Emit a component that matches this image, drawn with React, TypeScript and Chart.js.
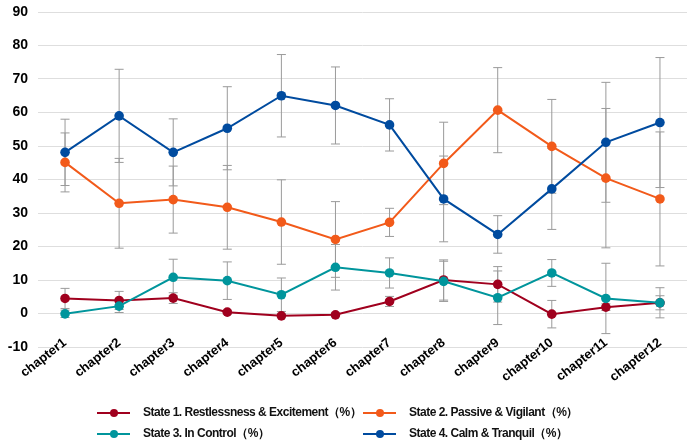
import React, { useEffect, useRef } from "react";
import { Chart, registerables } from "chart.js";

Chart.register(...registerables);

const categories = ["chapter1", "chapter2", "chapter3", "chapter4", "chapter5", "chapter6", "chapter7", "chapter8", "chapter9", "chapter10", "chapter11", "chapter12"];

const state1 = [4.5, 3.9, 4.6, 0.4, -0.7, -0.4, 3.6, 10.0, 8.7, -0.2, 1.9, 3.2];
const state1Err = [3.0, 2.7, 1.6, 0.6, 0.6, 0.6, 1.5, 6.0, 5.3, 4.1, 1.0, 2.1];

const state2 = [45.1, 32.9, 34.0, 31.7, 27.3, 22.1, 27.2, 44.8, 60.7, 49.9, 40.4, 34.2];
const state2Err = [8.8, 13.4, 10.0, 12.5, 12.6, 11.3, 4.2, 12.3, 12.7, 14.0, 20.8, 20.0];

const state3 = [-0.1, 2.2, 10.8, 9.8, 5.6, 13.8, 12.1, 9.6, 4.7, 12.1, 4.5, 3.2];
const state3Err = [1.1, 1.9, 5.4, 5.6, 5.0, 6.8, 4.5, 6.0, 8.0, 4.0, 10.5, 4.5];

const state4 = [48.1, 59.0, 48.1, 55.3, 65.0, 62.1, 56.3, 34.2, 23.6, 37.2, 51.1, 57.0];
const state4Err = [9.9, 13.9, 10.0, 12.4, 12.3, 11.5, 7.8, 12.8, 5.6, 12.1, 17.9, 19.4];

const yTicks = { min: -10, max: 90, step: 10 };

const seriesNames = [
  "State 1. Restlessness & Excitement（%）",
  "State 2. Passive & Vigilant（%）",
  "State 3. In Control（%）",
  "State 4. Calm & Tranquil（%）",
];
const colors = ["#a0001e", "#f25a1a", "#00959c", "#004b9f"];

const errorBarPlugin = {
  id: "errorBars",
  beforeDatasetsDraw(chart: any) {
    const ctx = chart.ctx;
    const yScale = chart.scales.y;
    const xScale = chart.scales.x;
    ctx.save();
    ctx.strokeStyle = "#9a9a9a";
    ctx.lineWidth = 1;
    chart.data.datasets.forEach((ds: any) => {
      const errs = ds.errors as number[];
      if (!errs) return;
      ds.data.forEach((v: number, i: number) => {
        const x = xScale.getPixelForValue(i);
        const yTop = yScale.getPixelForValue(v + errs[i]);
        const yBot = yScale.getPixelForValue(v - errs[i]);
        ctx.beginPath();
        ctx.moveTo(x, yTop);
        ctx.lineTo(x, yBot);
        ctx.moveTo(x - 4.5, yTop);
        ctx.lineTo(x + 4.5, yTop);
        ctx.moveTo(x - 4.5, yBot);
        ctx.lineTo(x + 4.5, yBot);
        ctx.stroke();
      });
    });
    ctx.restore();
  },
};

const FONT = "'Liberation Sans', Arial, Helvetica, sans-serif";

export default function App() {
  const canvasRef = useRef<HTMLCanvasElement | null>(null);

  useEffect(() => {
    if (!canvasRef.current) return;
    const values = [state1, state2, state3, state4];
    const errs = [state1Err, state2Err, state3Err, state4Err];
    const chart = new Chart(canvasRef.current, {
      type: "line",
      data: {
        labels: categories,
        datasets: values.map((vals, k) => ({
          label: seriesNames[k],
          data: vals,
          errors: errs[k],
          borderColor: colors[k],
          backgroundColor: colors[k],
          borderWidth: 2,
          pointRadius: 4.8,
          pointHoverRadius: 4.8,
          pointBorderWidth: 0,
          tension: 0,
          order: 4 - k,
        })) as any,
      },
      options: {
        responsive: false,
        animation: false,
        devicePixelRatio: 1,
        layout: { padding: { top: 12, right: 13, left: 0, bottom: 0 } },
        plugins: { legend: { display: false }, tooltip: { enabled: false } },
        scales: {
          x: {
            offset: true,
            grid: { display: false },
            border: { display: false },
            ticks: {
              color: "#000",
              font: { family: FONT, size: 13, weight: "bold" },
              minRotation: 38,
              maxRotation: 38,
              padding: -20,
            },
            afterFit: (s: any) => {
              s.height = 100;
              s._computeLabelArea = () => undefined;
            },
          },
          y: {
            min: yTicks.min,
            max: yTicks.max,
            border: { display: false },
            grid: { color: "#dedede", drawTicks: false, lineWidth: 1 },
            ticks: {
              stepSize: yTicks.step,
              color: "#000",
              font: { family: FONT, size: 14, weight: "bold" },
              padding: 10,
            },
            afterFit: (s: any) => {
              s.width = 38;
              s.paddingTop = 0;
              s.paddingBottom = 0;
            },
          },
        },
      },
      plugins: [errorBarPlugin],
    });
    return () => chart.destroy();
  }, []);

  const legendPos = [
    { x: 97, y: 412.5 },
    { x: 363, y: 412.5 },
    { x: 97, y: 433.5 },
    { x: 363, y: 433.5 },
  ];

  return (
    <div style={{ position: "fixed", left: 0, top: 0, width: 700, height: 447, background: "#fff" }}>
      <canvas ref={canvasRef} width={700} height={447} style={{ position: "absolute", left: 0, top: 0 }} />
      {seriesNames.map((name, k) => (
        <div
          key={name}
          style={{
            position: "absolute",
            left: legendPos[k].x,
            top: legendPos[k].y - 10,
            height: 20,
            display: "flex",
            alignItems: "center",
            whiteSpace: "nowrap",
          }}
        >
          <div style={{ position: "relative", width: 33, height: 20 }}>
            <div style={{ position: "absolute", left: 0, top: 9, width: 33, height: 2, background: colors[k] }} />
            <div
              style={{
                position: "absolute",
                left: 12.5,
                top: 6,
                width: 8,
                height: 8,
                borderRadius: "50%",
                background: colors[k],
              }}
            />
          </div>
          <span
            style={{
              marginLeft: 13,
              fontFamily: FONT,
              fontWeight: "bold",
              fontSize: 12,
              letterSpacing: "-0.5px",
              color: "#111",
            }}
          >
            {name}
          </span>
        </div>
      ))}
    </div>
  );
}
